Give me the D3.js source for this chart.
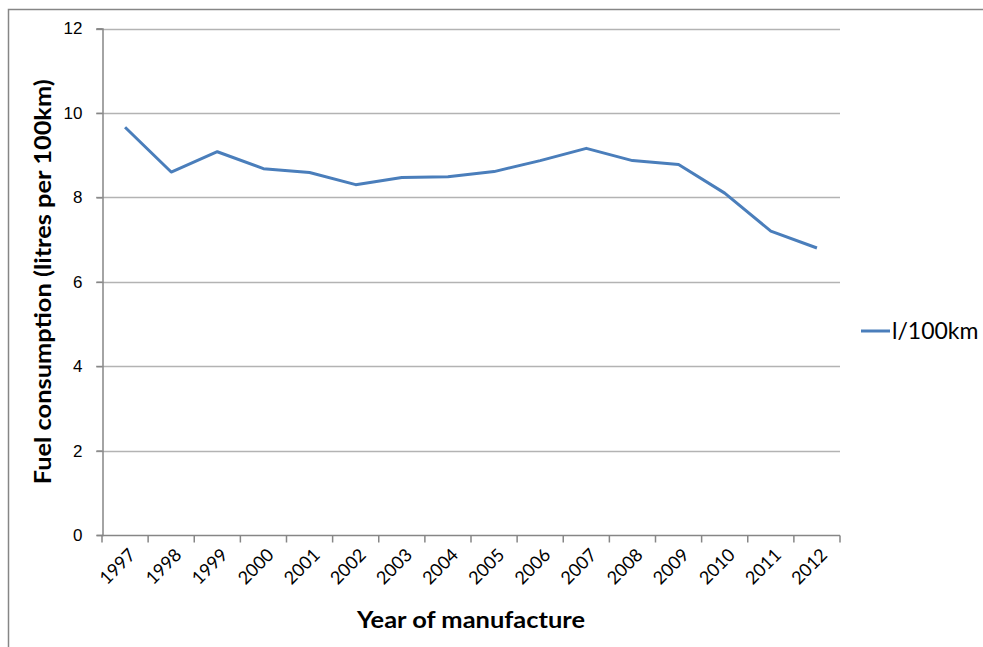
<!DOCTYPE html>
<meta charset="utf-8">
<style>
	body { margin: 0; background: #fff; }
	svg { display: block; font-family: Lato, "Open Sans", sans-serif; }
</style>
<svg width="983" height="647"></svg>
<script src="https://d3js.org/d3.v7.min.js"></script>
<script>
	var years = ["1997","1998","1999","2000","2001","2002","2003","2004","2005","2006","2007","2008","2009","2010","2011","2012"];
	var consumption = [9.66, 8.6, 9.08, 8.68, 8.59, 8.3, 8.47, 8.49, 8.61, 8.87, 9.16, 8.87, 8.78, 8.1, 7.2, 6.8];
	var yTicks = [0, 2, 4, 6, 8, 10, 12];
	var seriesName = "l/100km";

	var svg = d3.select("svg"),
		plotLeft = 102, plotRight = 840, plotTop = 28.5, plotBottom = 535;

	// chart frame
	svg.append("path").attr("fill", "none").attr("stroke", "#868686").attr("stroke-width", 1.5)
		.attr("d", "M8.5,647V9.5H983");

	var x = d3.scaleBand().domain(years).range([plotLeft, plotRight]);
	var y = d3.scaleLinear().domain([0, 12]).range([plotBottom, plotTop]);

	// gridlines
	svg.append("g").selectAll("line").data(yTicks.filter(function(d){ return d > 0; })).enter().append("line")
		.attr("x1", plotLeft - 6).attr("x2", plotRight)
		.attr("y1", function(d){ return Math.round(y(d)) + 0.5; })
		.attr("y2", function(d){ return Math.round(y(d)) + 0.5; })
		.attr("stroke", "#b3b3b3").attr("stroke-width", 1.5);

	// y axis
	var yAxis = svg.append("g").attr("transform", "translate(" + (plotLeft + 0.5) + ",0)")
		.call(d3.axisLeft(y).tickValues(yTicks).tickSize(6).tickPadding(14));
	yAxis.select(".domain").attr("stroke", "#868686").attr("stroke-width", 1.5);
	yAxis.selectAll(".tick line").attr("stroke", "#868686").attr("stroke-width", 1.5);
	yAxis.selectAll("text").attr("font-size", 17).attr("fill", "#000");

	// x axis: ticks at category boundaries
	var xAxis = svg.append("g").attr("transform", "translate(0," + (plotBottom + 0.5) + ")");
	xAxis.append("line").attr("x1", plotLeft).attr("x2", plotRight).attr("stroke", "#868686").attr("stroke-width", 1.5);
	var bounds = years.map(function(d){ return x(d); }).concat([plotRight]);
	xAxis.selectAll("line.tk").data(bounds).enter().append("line").attr("class", "tk")
		.attr("x1", function(d){ return d; }).attr("x2", function(d){ return d; })
		.attr("y1", 0).attr("y2", 7).attr("stroke", "#868686").attr("stroke-width", 1.5);
	xAxis.selectAll("text").data(years).enter().append("text")
		.attr("transform", function(d){ return "translate(" + (x(d) + x.bandwidth() / 2 + 2) + ",11) rotate(-45)"; })
		.attr("text-anchor", "end").attr("dy", "0.75em").attr("font-size", 18).attr("fill", "#000")
		.text(function(d){ return d; });

	// series line
	var line = d3.line()
		.x(function(d, i){ return x(years[i]) + x.bandwidth() / 2; })
		.y(function(d){ return y(d); });
	svg.append("path").datum(consumption).attr("fill", "none").attr("stroke", "#4a7ebb")
		.attr("stroke-width", 3).attr("stroke-linejoin", "round").attr("d", line);

	// axis titles
	svg.append("text").attr("transform", "translate(51," + ((plotTop + plotBottom) / 2) + ") rotate(-90)")
		.attr("text-anchor", "middle").attr("font-size", 22).attr("font-weight", "bold")
		.attr("textLength", 405).attr("lengthAdjust", "spacingAndGlyphs")
		.text("Fuel consumption (litres per 100km)");
	svg.append("text").attr("x", 471).attr("y", 628)
		.attr("text-anchor", "middle").attr("font-size", 23).attr("font-weight", "bold")
		.attr("textLength", 228).attr("lengthAdjust", "spacingAndGlyphs")
		.text("Year of manufacture");

	// legend
	var legend = svg.append("g").attr("transform", "translate(861,331)");
	legend.append("line").attr("x1", 0).attr("x2", 29).attr("stroke", "#4a7ebb").attr("stroke-width", 3);
	legend.append("text").attr("x", 31).attr("dy", "0.35em").attr("font-size", 23).text(seriesName);
</script>
